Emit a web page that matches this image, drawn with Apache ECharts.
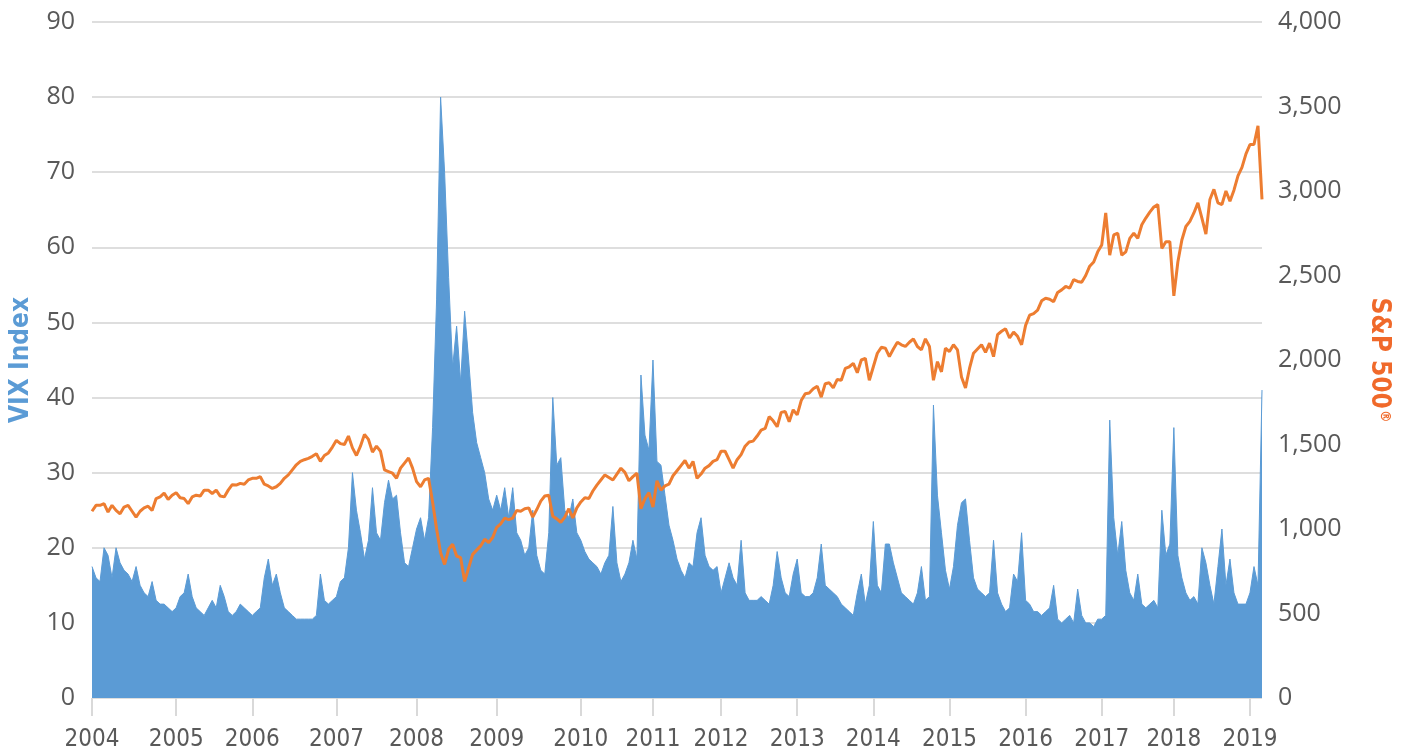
<!DOCTYPE html>
<html>
<head>
<meta charset="utf-8">
<title>VIX Index vs S&amp;P 500</title>
<script src="https://cdn.jsdelivr.net/npm/echarts@6/dist/echarts.min.js"></script>
<style>
  html, body { margin: 0; padding: 0; background: #fff; }
  #chart { width: 1403px; height: 755px; }
</style>
</head>
<body>
<div id="chart"></div>
<script>
// year labels and the sample index each tick sits on
var yearLabels = ['2004', '2005', '2006', '2007', '2008', '2009', '2010', '2011',
  '2012', '2013', '2014', '2015', '2016', '2017', '2018', '2019'];
var yearTickIndex = [0, 21, 40, 61, 81, 101, 122, 140, 157, 176, 195, 214, 233, 252, 270, 289];

// VIX (~every 20 days)
var vixIndex = [
  17.5, 16, 15.5, 20, 19, 16, 20, 18, 17, 16.5, 15.5, 17.5, 15, 14, 13.5, 15.5, 13, 12.5,
  12.5, 12, 11.5, 12, 13.5, 14, 16.5, 13.5, 12, 11.5, 11, 12, 13, 12, 15, 13.5, 11.5, 11,
  11.5, 12.5, 12, 11.5, 11, 11.5, 12, 16, 18.5, 15, 16.5, 14, 12, 11.5, 11, 10.5, 10.5, 10.5,
  10.5, 10.5, 11, 16.5, 13, 12.5, 13, 13.5, 15.5, 16, 20, 30, 25, 22, 18.5, 21, 28, 22,
  21, 26, 29, 26.5, 27, 22, 18, 17.5, 20, 22.5, 24, 21, 24, 36, 53, 80, 70, 56,
  44, 49.5, 42, 51.5, 45, 38, 34, 32, 30, 26.5, 25, 27, 25, 28, 24, 28, 22, 21,
  19, 20, 25, 19, 17, 16.5, 22, 40, 31, 32, 25, 24, 26.5, 22, 21, 19.5, 18.5, 18,
  17.5, 16.5, 18, 19, 25.5, 18, 15.5, 16.5, 18, 21, 18.5, 43, 35, 33, 45, 31.5, 31, 27,
  23, 21, 18.5, 17, 16, 18, 17.5, 22, 24, 19, 17.5, 17, 17.5, 14, 16, 18, 16, 15,
  21, 14, 13, 13, 13, 13.5, 13, 12.5, 15, 19.5, 16, 14, 13.5, 16.5, 18.5, 14, 13.5, 13.5,
  14, 16, 20.5, 15, 14.5, 14, 13.5, 12.5, 12, 11.5, 11, 14, 16.5, 12.5, 15, 23.5, 15, 14,
  20.5, 20.5, 18, 16, 14, 13.5, 13, 12.5, 14, 17.5, 13, 13.5, 39, 27, 22, 17, 14.5, 17.5,
  23, 26, 26.5, 21, 16, 14.5, 14, 13.5, 14, 21, 14, 12.5, 11.5, 12, 16.5, 15.5, 22, 13,
  12.5, 11.5, 11.5, 11, 11.5, 12, 15, 10.5, 10, 10.5, 11, 10, 14.5, 11, 10, 10, 9.5, 10.5,
  10.5, 11, 37, 24, 19, 23.5, 17, 14, 13, 16.5, 12.5, 12, 12.5, 13, 12, 25, 19, 20.5,
  36, 19, 16, 14, 13, 13.5, 12.5, 20, 18, 15, 12.5, 17.5, 22.5, 15, 18.5, 14, 12.5, 12.5,
  12.5, 14, 17.5, 15, 41
];

// S&P 500, same sample points
var sp500 = [
  1105, 1140, 1140, 1150, 1100, 1140, 1110, 1090, 1130, 1140, 1105, 1070, 1105, 1125, 1135, 1110, 1180, 1190,
  1212, 1175, 1200, 1215, 1185, 1180, 1150, 1190, 1200, 1195, 1230, 1230, 1210, 1230, 1195, 1190, 1230, 1262,
  1260, 1270, 1265, 1290, 1300, 1300, 1310, 1265, 1255, 1240, 1250, 1270, 1300, 1320, 1350, 1380, 1400, 1410,
  1418, 1430, 1445, 1400, 1435, 1450, 1485, 1525, 1505, 1500, 1550, 1480, 1435, 1490, 1560, 1530, 1455, 1490,
  1460, 1350, 1340, 1330, 1300, 1360, 1390, 1420, 1360, 1280, 1250, 1290, 1300, 1160, 1000, 860, 790, 880,
  910, 840, 830, 690, 770, 850, 875, 900, 940, 920, 950, 1010, 1030, 1065, 1055, 1065, 1110, 1105,
  1120, 1125, 1070, 1115, 1165, 1195, 1200, 1075, 1060, 1040, 1070, 1120, 1065, 1125, 1160, 1185, 1180, 1225,
  1260, 1290, 1320, 1305, 1290, 1325, 1360, 1335, 1285, 1310, 1330, 1120, 1180, 1215, 1130, 1285, 1230, 1255,
  1265, 1315, 1345, 1375, 1405, 1360, 1400, 1300, 1325, 1360, 1375, 1400, 1410, 1460, 1460, 1410, 1360, 1410,
  1440, 1490, 1515, 1520, 1550, 1585, 1595, 1665, 1640, 1605, 1690, 1695, 1635, 1705, 1675, 1760, 1800, 1805,
  1830, 1845, 1780, 1860, 1865, 1835, 1885, 1880, 1950, 1960, 1980, 1925, 2000, 2010, 1880, 1960, 2040, 2075,
  2070, 2020, 2065, 2105, 2090, 2080, 2105, 2125, 2080, 2060, 2125, 2080, 1880, 1990, 1930, 2070, 2050, 2090,
  2060, 1900, 1835, 1950, 2040, 2065, 2090, 2045, 2100, 2020, 2150, 2170, 2185, 2130, 2165, 2140, 2090, 2205,
  2265, 2275, 2295, 2350, 2365, 2360, 2345, 2400, 2415, 2435, 2425, 2475, 2465, 2460, 2500, 2555, 2580, 2640,
  2680, 2870, 2620, 2740, 2750, 2620, 2640, 2720, 2750, 2720, 2800, 2840, 2875, 2905, 2920, 2660, 2700, 2700,
  2380, 2580, 2710, 2790, 2820, 2870, 2930, 2840, 2745, 2950, 3010, 2930, 2920, 3000, 2940, 3005, 3090, 3140,
  3220, 3275, 3275, 3385, 2950
];

var categories = vixIndex.map(function (v, i) { return String(i); });

function isYearTick(index) {
  return yearTickIndex.indexOf(index) >= 0;
}

var labelFont = "'Open Sans', 'Noto Sans', sans-serif";
var narrowFont = "'Liberation Sans Narrow', 'DejaVu Sans Condensed', sans-serif";

var chart = echarts.init(document.getElementById('chart'));
chart.setOption({
  animation: false,
  grid: { left: 92, right: 141, top: 22, bottom: 57 },
  xAxis: {
    type: 'category',
    data: categories,
    boundaryGap: false,
    axisLine: { show: false },
    axisTick: {
      show: true,
      interval: isYearTick,
      length: 18,
      lineStyle: { color: '#d9d9d9', width: 2 }
    },
    axisLabel: {
      interval: isYearTick,
      formatter: function (value, index) {
        var k = yearTickIndex.indexOf(index);
        return k >= 0 ? yearLabels[k] : '';
      },
      margin: 30,
      fontFamily: narrowFont,
      fontSize: 24,
      color: '#595959'
    },
    splitLine: { show: false }
  },
  yAxis: [
    {
      type: 'value',
      min: 0,
      max: 90,
      interval: 10,
      position: 'left',
      name: 'VIX Index',
      nameLocation: 'middle',
      nameRotate: 90,
      nameGap: 58,
      nameTextStyle: {
        color: '#5b9bd5',
        fontFamily: narrowFont,
        fontWeight: 'bold',
        fontSize: 26
      },
      axisLine: { show: false },
      axisTick: { show: false },
      axisLabel: { margin: 17, fontFamily: labelFont, fontSize: 25, color: '#595959' },
      splitLine: { lineStyle: { color: '#dedede', width: 2 } }
    },
    {
      type: 'value',
      min: 0,
      max: 4000,
      interval: 500,
      position: 'right',
      name: 'S&P 500{r|®}',
      nameLocation: 'middle',
      nameRotate: -90,
      nameGap: 104,
      nameTextStyle: {
        color: '#f0692a',
        fontFamily: narrowFont,
        fontWeight: 'bold',
        fontSize: 26,
        rich: {
          r: { fontSize: 14, fontWeight: 'bold', color: '#f0692a', verticalAlign: 'top', padding: [0, 0, 10, 1] }
        }
      },
      axisLine: { show: false },
      axisTick: { show: false },
      axisLabel: {
        margin: 16,
        fontFamily: labelFont,
        fontSize: 25,
        color: '#595959',
        formatter: function (v) { return String(v).replace(/\B(?=(\d{3})+(?!\d))/g, ','); }
      },
      splitLine: { show: false }
    }
  ],
  series: [
    {
      name: 'VIX Index',
      type: 'line',
      yAxisIndex: 0,
      data: vixIndex,
      symbol: 'none',
      lineStyle: { color: '#5b9bd5', width: 1 },
      areaStyle: { color: '#5b9bd5', opacity: 1 },
      z: 2
    },
    {
      name: 'S&P 500',
      type: 'line',
      yAxisIndex: 1,
      data: sp500,
      symbol: 'none',
      lineStyle: { color: '#ed7d31', width: 3 },
      z: 3
    }
  ]
});
</script>
</body>
</html>
